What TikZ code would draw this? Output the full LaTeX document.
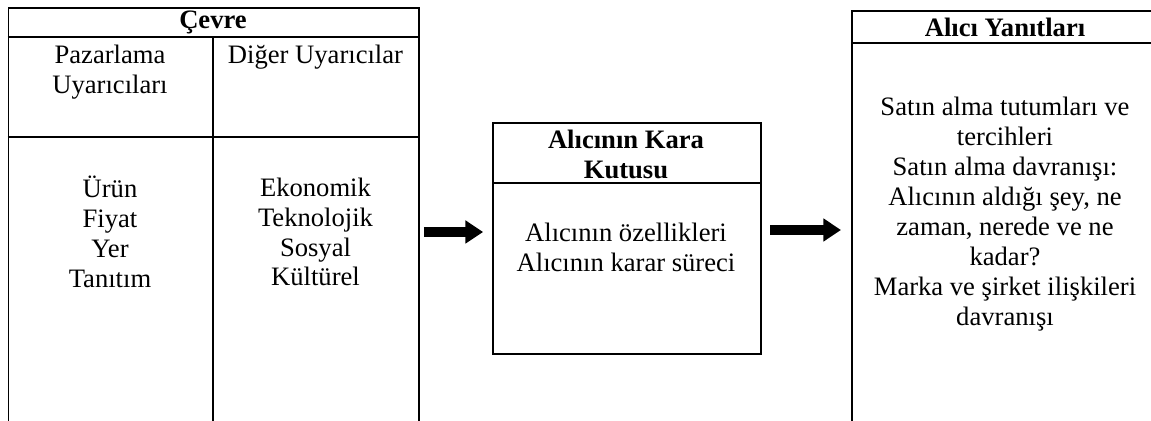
\documentclass[tikz,border=0pt]{standalone}
\usepackage{fontspec}
\setmainfont{Liberation Serif}
\usetikzlibrary{arrows.meta,positioning}

\begin{document}
\begin{tikzpicture}[x=0.451pt, y=-0.451pt,
    frame/.style={draw, line width=0.9pt, inner sep=0pt, anchor=north west},
    txt/.style={align=center, inner sep=0pt, font=\fontsize{12pt}{13.5pt}\selectfont},
    hd/.style={align=center, inner sep=0pt, font=\fontsize{12pt}{13.5pt}\selectfont\bfseries},
    blk/.style={line width=4.5pt, -{Triangle[length=8pt, width=10pt]}}
]
    % Page (the boxes run off the bottom and right edge)
    \useasboundingbox (0,0) rectangle (1151,421);
    \clip (0,0) rectangle (1151,421);
    \fill[white] (0,0) rectangle (1151,421);

    % Environment box
    \node[frame, minimum width=410.5*0.451pt, minimum height=433*0.451pt] (env) at (7.5,7) {};
    \draw[line width=0.9pt] (7.5,37) -- (418,37);
    \draw[line width=0.9pt] (7.5,137) -- (418,137);
    \draw[line width=0.9pt] (213,37) -- (213,440);
    \node[hd]  (cevre) at (213,22) {Çevre};
    \node[txt] (paz)   at (110,72.5) {Pazarlama\\Uyarıcıları};
    \node[txt] (diger) at (315.5,57) {Diğer Uyarıcılar};
    \node[txt] (pazl)  at (110,232) {Ürün\\Fiyat\\Yer\\Tanıtım};
    \node[txt] (digl)  at (315.5,232) {Ekonomik\\Teknolojik\\Sosyal\\Kültürel};

    % Black box
    \node[frame, line width=1pt, minimum width=268*0.451pt, minimum height=231*0.451pt] (mid) at (492,122) {};
    \draw[line width=1pt] (492,183) -- (760,183);
    \node[hd]  (kutu)  at (626,154) {Alıcının Kara\\Kutusu};
    \node[txt] (ozel)  at (626,247) {Alıcının özellikleri\\Alıcının karar süreci};

    % Responses box
    \node[frame, minimum width=309*0.451pt, minimum height=430*0.451pt] (yanit) at (851,10) {};
    \draw[line width=0.9pt] (851,43) -- (1160,43);
    \node[hd]  (yhd)   at (1005,27) {Alıcı Yanıtları};
    \node[txt] (ylist) at (1005,214) {Satın alma tutumları ve\\tercihleri\\Satın alma davranışı:\\Alıcının aldığı şey, ne\\zaman, nerede ve ne\\kadar?\\Marka ve şirket ilişkileri\\davranışı};

    % Arrows
    \draw[blk, shorten <=1.8pt, shorten >=4pt] (env.east |- 0,232) -- (mid.west |- 0,232);
    \draw[blk, shorten <=3.6pt, shorten >=4.5pt] (mid.east |- 0,230) -- (yanit.west |- 0,230);
\end{tikzpicture}
\end{document}
